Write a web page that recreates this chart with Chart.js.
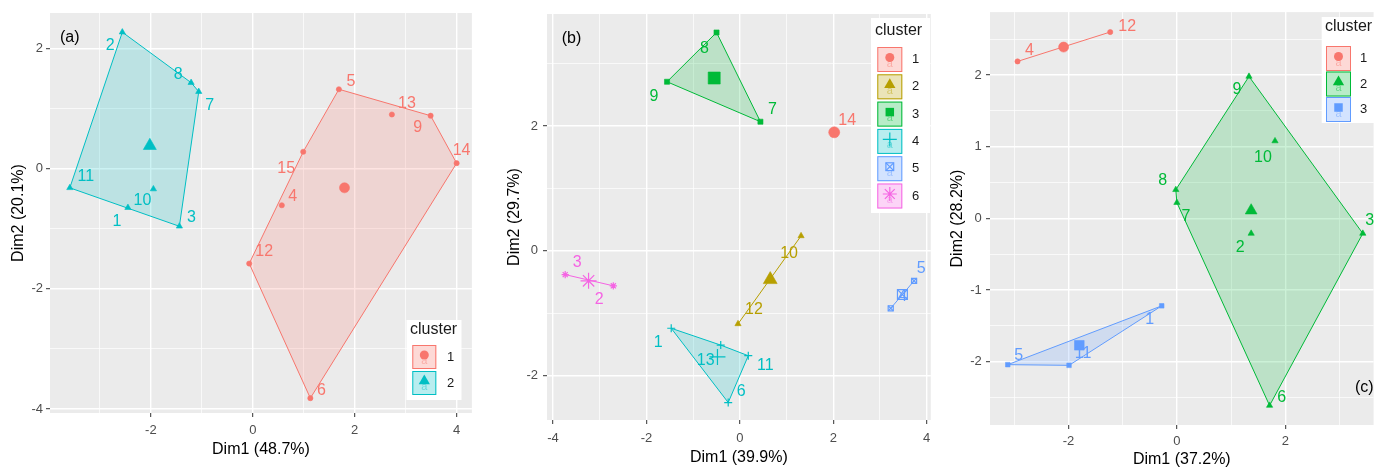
<!DOCTYPE html>
<html>
<head>
<meta charset="utf-8">
<script src="https://cdn.jsdelivr.net/npm/chart.js@4.4.1/dist/chart.umd.min.js"></script>
<style>
  html, body { margin: 0; padding: 0; background: #ffffff; overflow: hidden; }
  #wrap { position: relative; width: 1381px; height: 468px; }
  .panel { position: absolute; top: 0; height: 468px; }
  canvas { display: block; }
</style>
</head>
<body>
<div id="wrap">
  <div class="panel" style="left:0px;width:480px"><canvas id="ca" width="480" height="468"></canvas></div>
  <div class="panel" style="left:480px;width:460px"><canvas id="cb" width="460" height="468"></canvas></div>
  <div class="panel" style="left:940px;width:441px"><canvas id="cc" width="441" height="468"></canvas></div>
</div>
<script>
// ================= DATA =================
// ---- Panel (a): 2 clusters ----
const aLabels  = ['1','2','3','4','5','6','7','8','9','10','11','12','13','14','15'];
const aDim1    = [-2.45, -2.56, -1.44, 0.57, 1.69, 1.13, -1.06, -1.21, 3.49, -1.95, -3.59, -0.07, 2.73, 4.00, 0.99];
const aDim2    = [-0.65, 2.27, -0.96, -0.61, 1.32, -3.82, 1.28, 1.43, 0.88, -0.34, -0.32, -1.58, 0.90, 0.09, 0.28];
const aCluster = [2, 2, 2, 1, 1, 1, 2, 2, 1, 2, 2, 1, 1, 1, 1];
const aCenterDim1 = [1.80, -2.02];
const aCenterDim2 = [-0.32, 0.38];
const aTitleX = 'Dim1 (48.7%)';
const aTitleY = 'Dim2 (20.1%)';

// ---- Panel (b): 6 clusters ----
const bLabels  = ['1','2','3','4','5','6','7','8','9','10','11','12','13','14'];
const bDim1    = [-1.47, -2.71, -3.74, 3.23, 3.73, -0.25, 0.44, -0.50, -1.56, 1.31, 0.18, -0.04, -0.41, 2.02];
const bDim2    = [-1.24, -0.56, -0.38, -0.92, -0.48, -2.43, 2.07, 3.50, 2.71, 0.24, -1.68, -1.17, -1.51, 1.90];
const bCluster = [4, 6, 6, 5, 5, 4, 3, 3, 3, 2, 4, 2, 4, 1];
const bCenterDim1 = [2.02, 0.65, -0.55, -0.48, 3.48, -3.24];
const bCenterDim2 = [1.90, -0.46, 2.77, -1.70, -0.70, -0.48];
const bTitleX = 'Dim1 (39.9%)';
const bTitleY = 'Dim2 (29.7%)';

// ---- Panel (c): 3 clusters ----
const cLabels  = ['1','2','3','4','5','6','7','8','9','10','11','12'];
const cDim1    = [-0.28, 1.37, 3.43, -2.94, -3.12, 1.71, 0.00, -0.02, 1.33, 1.81, -1.99, -1.23];
const cDim2    = [-1.22, -0.21, -0.21, 2.19, -2.04, -2.61, 0.22, 0.40, 1.98, 1.08, -2.05, 2.60];
const cCluster = [3, 2, 2, 1, 3, 2, 2, 2, 2, 2, 3, 1];
const cCenterDim1 = [-2.09, 1.37, -1.80];
const cCenterDim2 = [2.39, 0.11, -1.77];
const cTitleX = 'Dim1 (37.2%)';
const cTitleY = 'Dim2 (28.2%)';

const legendTitle = 'cluster';

// ================= STYLE =================
const FONT = '"Liberation Sans", Arial, Helvetica, sans-serif';
Chart.defaults.font.family = FONT;
Chart.defaults.animation = false;

// label nudges in pixels [dx, dy], one per point
const aNudge = [[-11,14],[-12,13],[12,-9],[11,-9],[12,-8],[11,-8],[11,14],[-13,-8],[-13,12],[-11,12],[16,-11],[15,-12],[15,-11],[5,-13],[-17,17]];
const bNudge = [[-13,14],[-14,14],[12,-12],[12,-12],[7,-12],[13,-11],[12,-12],[-12,16],[-13,15],[-12,18],[17,10],[16,-14],[-15,15],[13,-12]];
const cNudge = [[-12,14],[-11,14],[7,-13],[12,-11],[11,-9],[12,-8],[9,14],[-13,-9],[-12,13],[-12,17],[14,-12],[17,-5]];

function rgba(hex, a) {
  const n = parseInt(hex.slice(1), 16);
  return 'rgba(' + ((n >> 16) & 255) + ',' + ((n >> 8) & 255) + ',' + (n & 255) + ',' + a + ')';
}

function convexHull(pts) {
  if (pts.length < 3) return pts.slice();
  const p = pts.slice().sort((a, b) => a.x - b.x || a.y - b.y);
  const cr = (o, a, b) => (a.x - o.x) * (b.y - o.y) - (a.y - o.y) * (b.x - o.x);
  const lower = [];
  for (const q of p) { while (lower.length >= 2 && cr(lower[lower.length - 2], lower[lower.length - 1], q) <= 0) lower.pop(); lower.push(q); }
  const upper = [];
  for (let i = p.length - 1; i >= 0; i--) { const q = p[i]; while (upper.length >= 2 && cr(upper[upper.length - 2], upper[upper.length - 1], q) <= 0) upper.pop(); upper.push(q); }
  upper.pop(); lower.pop();
  return lower.concat(upper);
}

const SHAPE_PARTS = {
  circle:    [{ s: 'circle', fill: true }],
  triangle:  [{ s: 'triangle', fill: true }],
  rect:      [{ s: 'rect', fill: true }],
  cross:     [{ s: 'cross', fill: false }],
  rectcross: [{ s: 'rect', fill: false }, { s: 'crossRot', fill: false }],
  star:      [{ s: 'star', fill: false }]
};

function drawMarker(ctx, shape, x, y, r, color) {
  ctx.save();
  ctx.fillStyle = color; ctx.strokeStyle = color; ctx.lineWidth = 1.2;
  const h = r / Math.SQRT2;
  ctx.beginPath();
  if (shape === 'circle') { ctx.arc(x, y, r, 0, Math.PI * 2); ctx.fill(); }
  else if (shape === 'triangle') {
    let a = 0;
    ctx.moveTo(x + Math.sin(a) * r, y - Math.cos(a) * r); a += 2 * Math.PI / 3;
    ctx.lineTo(x + Math.sin(a) * r, y - Math.cos(a) * r); a += 2 * Math.PI / 3;
    ctx.lineTo(x + Math.sin(a) * r, y - Math.cos(a) * r); ctx.closePath(); ctx.fill();
  }
  else if (shape === 'rect') { ctx.fillRect(x - h, y - h, 2 * h, 2 * h); }
  else if (shape === 'cross') { ctx.moveTo(x - r, y); ctx.lineTo(x + r, y); ctx.moveTo(x, y - r); ctx.lineTo(x, y + r); ctx.stroke(); }
  else if (shape === 'rectcross') { ctx.strokeRect(x - h, y - h, 2 * h, 2 * h); ctx.moveTo(x - h, y - h); ctx.lineTo(x + h, y + h); ctx.moveTo(x + h, y - h); ctx.lineTo(x - h, y + h); ctx.stroke(); }
  else if (shape === 'star') {
    ctx.moveTo(x - r, y); ctx.lineTo(x + r, y); ctx.moveTo(x, y - r); ctx.lineTo(x, y + r);
    ctx.moveTo(x - h, y - h); ctx.lineTo(x + h, y + h); ctx.moveTo(x + h, y - h); ctx.lineTo(x - h, y + h); ctx.stroke();
  }
  ctx.restore();
}

function makePanel(cfg) {
  const H = 468;
  const K = cfg.colors.length;
  const datasets = [];
  for (let k = 1; k <= K; k++) {
    const col = cfg.colors[k - 1];
    const pts = [];
    cfg.cluster.forEach((c, i) => { if (c === k) pts.push({ x: cfg.dim1[i], y: cfg.dim2[i] }); });
    const hull = convexHull(pts);
    if (hull.length >= 2) {
      const closed = hull.length >= 3 ? hull.concat([hull[0]]) : hull;
      datasets.push({
        type: 'line', data: closed, borderColor: col, backgroundColor: rgba(col, 0.2),
        borderWidth: 1, pointRadius: 0, tension: 0, fill: hull.length >= 3 ? 'shape' : false, order: 10
      });
    }
    const shape = cfg.shapes[k - 1];
    for (const part of SHAPE_PARTS[shape]) {
      const common = {
        type: 'scatter', pointStyle: part.s,
        pointBackgroundColor: part.fill ? col : 'rgba(0,0,0,0)',
        pointBorderColor: col, pointBorderWidth: part.fill ? 0.6 : 1.2, showLine: false
      };
      datasets.push(Object.assign({}, common, { data: pts, pointRadius: cfg.ptR[k - 1], order: 5 }));
      datasets.push(Object.assign({}, common, { data: [{ x: cfg.cenX[k - 1], y: cfg.cenY[k - 1] }], pointRadius: cfg.cenR[k - 1], order: 1 }));
    }
  }

  const isMajX = v => Math.abs(v / cfg.xMajor - Math.round(v / cfg.xMajor)) < 1e-6;
  const isMajY = v => Math.abs(v / cfg.yMajor - Math.round(v / cfg.yMajor)) < 1e-6;

  const bgPlugin = {
    id: 'panelBg',
    beforeDraw(chart) {
      const a = chart.chartArea, ctx = chart.ctx;
      ctx.save(); ctx.fillStyle = '#EBEBEB';
      ctx.fillRect(a.left, a.top, a.right - a.left, a.bottom - a.top); ctx.restore();
    }
  };

  const labelPlugin = {
    id: 'pointLabels',
    afterDatasetsDraw(chart) {
      const ctx = chart.ctx, xs = chart.scales.x, ys = chart.scales.y;
      ctx.save();
      ctx.font = '16px ' + FONT; ctx.textAlign = 'center'; ctx.textBaseline = 'middle';
      cfg.labels.forEach((lab, i) => {
        const px = xs.getPixelForValue(cfg.dim1[i]) + cfg.nudge[i][0];
        const py = ys.getPixelForValue(cfg.dim2[i]) + cfg.nudge[i][1];
        ctx.fillStyle = cfg.colors[cfg.cluster[i] - 1];
        ctx.fillText(lab, px, py);
      });
      ctx.restore();
    }
  };

  const legendPlugin = {
    id: 'clusterLegend',
    afterDraw(chart) {
      const ctx = chart.ctx, L = cfg.legend;
      ctx.save();
      ctx.fillStyle = '#FFFFFF'; ctx.fillRect(L.x, L.y, L.w, L.h);
      ctx.fillStyle = '#1A1A1A'; ctx.font = '16px ' + FONT; ctx.textAlign = 'left'; ctx.textBaseline = 'middle';
      ctx.fillText(legendTitle, L.titleX, L.titleY);
      for (let k = 0; k < K; k++) {
        const col = cfg.colors[k];
        const ky = L.keyY0 + k * L.keyStep;
        ctx.fillStyle = rgba(col, 0.28);
        ctx.fillRect(L.keyX, ky, L.keySize, L.keySize);
        ctx.strokeStyle = col; ctx.lineWidth = 1;
        ctx.strokeRect(L.keyX + 0.5, ky + 0.5, L.keySize - 1, L.keySize - 1);
        const cx = L.keyX + L.keySize / 2, cy = ky + L.keySize / 2;
        ctx.fillStyle = rgba(col, 0.45); ctx.font = '11px ' + FONT; ctx.textAlign = 'center';
        ctx.fillText('a', cx, cy + 4);
        drawMarker(ctx, cfg.shapes[k], cx, cy - 2, L.markR[k], col);
        ctx.fillStyle = '#1A1A1A'; ctx.font = '13px ' + FONT; ctx.textAlign = 'left';
        ctx.fillText(String(k + 1), L.labelX, cy);
      }
      ctx.font = '16px ' + FONT; ctx.fillStyle = '#000000'; ctx.textAlign = 'left';
      ctx.fillText(cfg.tag.text, cfg.tag.x, cfg.tag.y);
      ctx.restore();
    }
  };

  const A = cfg.area;
  return new Chart(document.getElementById(cfg.canvas), {
    type: 'scatter',
    data: { datasets },
    plugins: [bgPlugin, labelPlugin, legendPlugin],
    options: {
      responsive: false, devicePixelRatio: 1, animation: false, events: [],
      layout: { padding: { left: 0, top: A.top, right: cfg.width - A.right, bottom: 0 } },
      plugins: { legend: { display: false }, tooltip: { enabled: false } },
      scales: {
        x: {
          type: 'linear', min: cfg.xMin, max: cfg.xMax,
          afterFit: s => { s.height = H - A.bottom; },
          border: { display: false },
          grid: {
            color: '#FFFFFF', drawOnChartArea: true, drawTicks: true, tickLength: 4, tickWidth: 1,
            lineWidth: c => isMajX(c.tick.value) ? 1.4 : 0.7,
            tickColor: c => isMajX(c.tick.value) ? '#333333' : 'rgba(0,0,0,0)'
          },
          ticks: {
            stepSize: cfg.xStep, includeBounds: false, autoSkip: false, maxRotation: 0, minRotation: 0,
            padding: cfg.xTickPad, color: '#4D4D4D', font: { size: 13 },
            callback: v => isMajX(v) ? String(Math.round(v * 100) / 100) : ''
          },
          title: { display: true, text: cfg.xTitle, color: '#000000', font: { size: 16 },
                   padding: { top: 0, bottom: cfg.xTitlePad } }
        },
        y: {
          type: 'linear', min: cfg.yMin, max: cfg.yMax,
          afterFit: s => { s.width = A.left; },
          border: { display: false },
          grid: {
            color: '#FFFFFF', drawOnChartArea: true, drawTicks: true, tickLength: 4, tickWidth: 1,
            lineWidth: c => isMajY(c.tick.value) ? 1.4 : 0.7,
            tickColor: c => isMajY(c.tick.value) ? '#333333' : 'rgba(0,0,0,0)'
          },
          ticks: {
            stepSize: cfg.yStep, includeBounds: false, autoSkip: false,
            padding: cfg.yTickPad, color: '#4D4D4D', font: { size: 13 },
            callback: v => isMajY(v) ? String(Math.round(v * 100) / 100) : ''
          },
          title: { display: true, text: cfg.yTitle, color: '#000000', font: { size: 16 },
                   padding: { top: cfg.yTitlePad, bottom: 0 } }
        }
      }
    }
  });
}

// ---- Panel (a) ----
makePanel({
  canvas: 'ca', width: 480, area: { left: 50, top: 13, right: 478, bottom: 413 },
  xMin: -3.979, xMax: 4.300, yMin: -4.067, yMax: 2.589,
  xStep: 1, yStep: 1, xMajor: 2, yMajor: 2,
  xTitle: aTitleX, yTitle: aTitleY, xTitlePad: 9, yTitlePad: 8.5, xTickPad: 6, yTickPad: 3,
  labels: aLabels, dim1: aDim1, dim2: aDim2, cluster: aCluster, cenX: aCenterDim1, cenY: aCenterDim2,
  nudge: aNudge,
  colors: ['#F8766D', '#00BFC4'], shapes: ['circle', 'triangle'],
  ptR: [2.6, 3.6], cenR: [5, 7.5],
  legend: { x: 406.5, y: 320, w: 55, h: 80, titleX: 410, titleY: 330, keyX: 412.3, keyY0: 345,
            keySize: 24, keyStep: 26, labelX: 447, markR: [4.5, 6.5] },
  tag: { text: '(a)', x: 60, y: 38 }
});

// ---- Panel (b) ----
makePanel({
  canvas: 'cb', width: 460, area: { left: 67, top: 14, right: 454, bottom: 420 },
  xMin: -4.13, xMax: 4.088, yMin: -2.71, yMax: 3.796,
  xStep: 1, yStep: 1, xMajor: 2, yMajor: 2,
  xTitle: bTitleX, yTitle: bTitleY, xTitlePad: 1, yTitlePad: 25, xTickPad: 6.5, yTickPad: 5,
  labels: bLabels, dim1: bDim1, dim2: bDim2, cluster: bCluster, cenX: bCenterDim1, cenY: bCenterDim2,
  nudge: bNudge,
  colors: ['#F8766D', '#B79F00', '#00BA38', '#00BFC4', '#619CFF', '#F564E3'],
  shapes: ['circle', 'triangle', 'rect', 'cross', 'rectcross', 'star'],
  ptR: [2.6, 3.6, 3.6, 4, 3.6, 3.6], cenR: [5.5, 8, 8.5, 8, 7, 8],
  legend: { x: 391, y: 18, w: 59, h: 195, titleX: 395, titleY: 31, keyX: 397.3, keyY0: 47,
            keySize: 25, keyStep: 27.3, labelX: 432, markR: [4.5, 6.5, 6, 7, 5.5, 7] },
  tag: { text: '(b)', x: 81.7, y: 39 }
});

// ---- Panel (c) ----
makePanel({
  canvas: 'cc', width: 441, area: { left: 50, top: 12, right: 441, bottom: 425 },
  xMin: -3.448, xMax: 3.629, yMin: -2.882, yMax: 2.878,
  xStep: 1, yStep: 0.5, xMajor: 2, yMajor: 1,
  xTitle: cTitleX, yTitle: cTitleY, xTitlePad: -1.5, yTitlePad: 8, xTickPad: 5, yTickPad: 4.3,
  labels: cLabels, dim1: cDim1, dim2: cDim2, cluster: cCluster, cenX: cCenterDim1, cenY: cCenterDim2,
  nudge: cNudge,
  colors: ['#F8766D', '#00BA38', '#619CFF'], shapes: ['circle', 'triangle', 'rect'],
  ptR: [2.6, 3.6, 3.2], cenR: [5, 6.8, 6.8],
  legend: { x: 381.7, y: 17, w: 70, h: 106, titleX: 385, titleY: 27, keyX: 386, keyY0: 46,
            keySize: 25, keyStep: 25.5, labelX: 420, markR: [4.5, 6.5, 6] },
  tag: { text: '(c)', x: 415, y: 388 }
});
</script>
</body>
</html>
